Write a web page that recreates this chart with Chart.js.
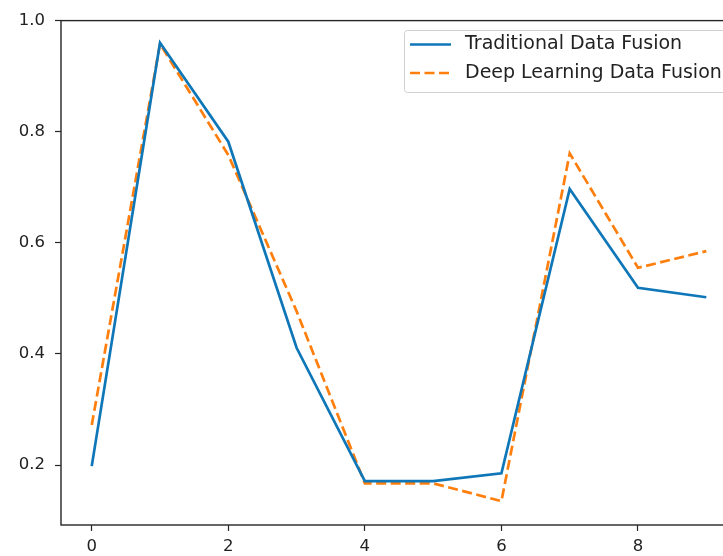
<!DOCTYPE html>
<html>
<head>
<meta charset="utf-8">
<script src="https://cdn.jsdelivr.net/npm/chart.js@4.4.1/dist/chart.umd.min.js"></script>
<style>
    html, body { margin: 0; padding: 0; background: #fff; }
    #wrap { width: 723px; height: 556px; overflow: hidden; }
</style>
</head>
<body>
<div id="wrap"><canvas id="fusion-chart" width="760" height="556"></canvas></div>
<script>
const xValues = [0, 1, 2, 3, 4, 5, 6, 7, 8, 9];
const traditional = [0.198, 0.960, 0.782, 0.411, 0.171, 0.171, 0.185, 0.697, 0.519, 0.502];
const deepLearning = [0.272, 0.958, 0.758, 0.477, 0.167, 0.167, 0.135, 0.761, 0.555, 0.585];
const seriesLabels = ['Traditional Data Fusion', 'Deep Learning Data Fusion'];
const xTicks = [0, 2, 4, 6, 8];
const yTicks = [0.2, 0.4, 0.6, 0.8, 1.0];

const TICK_FONT = {family: 'DejaVu Sans', size: 16.5};
const LEGEND_FONT = '19px "DejaVu Sans"';
const TEXT = '#222222';

// matplotlib style box around the axes
const framePlugin = {
    id: 'frame',
    afterDraw(chart) {
        const {ctx, chartArea: a} = chart;
        ctx.save();
        ctx.strokeStyle = '#262626';
        ctx.lineWidth = 1.4;
        ctx.strokeRect(a.left, a.top, a.right - a.left, a.bottom - a.top);
        ctx.restore();
    }
};

const legendBoxPlugin = {
    id: 'legendBox',
    afterDatasetsDraw(chart) {
        const ctx = chart.ctx;
        ctx.save();
        ctx.beginPath();
        ctx.roundRect(404.5, 30.5, 330, 62, 3);
        ctx.fillStyle = 'rgba(255,255,255,0.85)';
        ctx.fill();
        ctx.strokeStyle = '#d0d0d0';
        ctx.lineWidth = 1;
        ctx.stroke();
        chart.data.datasets.forEach((ds, i) => {
            const y = 44.5 + i * 28.5;
            ctx.beginPath();
            ctx.strokeStyle = ds.borderColor;
            ctx.lineWidth = ds.borderWidth;
            ctx.setLineDash(ds.borderDash || []);
            ctx.moveTo(410, y);
            ctx.lineTo(451, y);
            ctx.stroke();
            ctx.setLineDash([]);
            ctx.fillStyle = TEXT;
            ctx.font = LEGEND_FONT;
            ctx.textBaseline = 'middle';
            ctx.fillText(ds.label, 465, y);
        });
        ctx.restore();
    }
};

new Chart(document.getElementById('fusion-chart'), {
    type: 'line',
    data: {
        datasets: [
            {label: seriesLabels[0], data: xValues.map((x, i) => ({x: x, y: traditional[i]})),
             borderColor: '#0f77b8', borderWidth: 2.7, pointRadius: 0, tension: 0},
            {label: seriesLabels[1], data: xValues.map((x, i) => ({x: x, y: deepLearning[i]})),
             borderColor: '#ff7f0e', borderWidth: 2.7, borderDash: [10, 4.5], pointRadius: 0, tension: 0}
        ]
    },
    options: {
        responsive: false,
        animation: false,
        layout: {padding: {top: 20.6, right: 23, left: 0, bottom: 0}},
        plugins: {legend: {display: false}, tooltip: {enabled: false}},
        scales: {
            x: {
                type: 'linear', min: -0.45, max: 9.45,
                afterBuildTicks: scale => { scale.ticks = xTicks.map(v => ({value: v})); },
                afterFit: scale => { scale.height = 31; },
                grid: {drawOnChartArea: false, drawTicks: true, tickLength: 6, tickColor: '#262626', tickWidth: 1.2},
                border: {display: false},
                ticks: {font: TICK_FONT, color: TEXT, padding: 6, maxRotation: 0}
            },
            y: {
                type: 'linear', min: 0.092, max: 1.0,
                afterBuildTicks: scale => { scale.ticks = yTicks.map(v => ({value: v})); },
                afterFit: scale => { scale.width = 61; },
                grid: {drawOnChartArea: false, drawTicks: true, tickLength: 6, tickColor: '#262626', tickWidth: 1.2},
                border: {display: false},
                ticks: {font: TICK_FONT, color: TEXT, padding: 10, callback: v => v.toFixed(1)}
            }
        }
    },
    plugins: [framePlugin, legendBoxPlugin]
});
</script>
</body>
</html>
